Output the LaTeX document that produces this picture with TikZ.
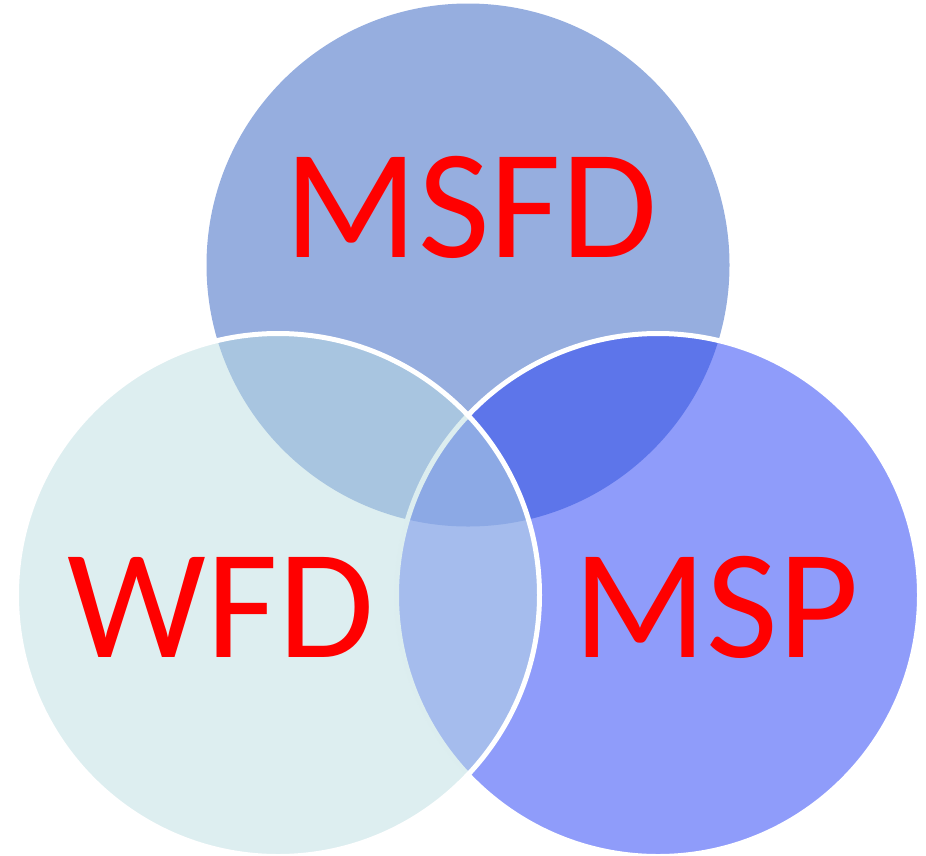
\documentclass[tikz,border=0pt]{standalone}
\usepackage{fontspec}
\newfontfamily\vennfont{Carlito}
\definecolor{topblue}{RGB}{150,174,223}
\definecolor{rightblue}{RGB}{43,68,245}
\definecolor{leftcyan}{RGB}{187,221,225}
\tikzset{ set/.style = { circle % one set of the venn
, inner sep = 0pt
, minimum size = 523pt
}
, top/.style = { set
, fill = topblue
}
, side/.style = { set
, draw = white
, line width = 5pt
}
, lbl/.style = { inner sep = 0pt % set name
, anchor = base
, text = red
, font = \vennfont\fontsize{156}{160}\selectfont
}
}

\begin{document}
\begin{tikzpicture}[x=1pt, y=-1pt]
    \useasboundingbox (0,0) rectangle (926,855);
    \node[top] (msfd) at (468,265) {};
    \node[side, fill = rightblue, fill opacity = 0.53] (msp) at (658,595) {};
    \node[side, fill = leftcyan, fill opacity = 0.5] (wfd) at (278,595) {};

    \node[lbl] (msfdname) at (471,257) {MSFD};
    \node[lbl] (wfdname) at (221,657) {WFD};
    \node[lbl] (mspname) at (716,657) {MSP};
\end{tikzpicture}
\end{document}
